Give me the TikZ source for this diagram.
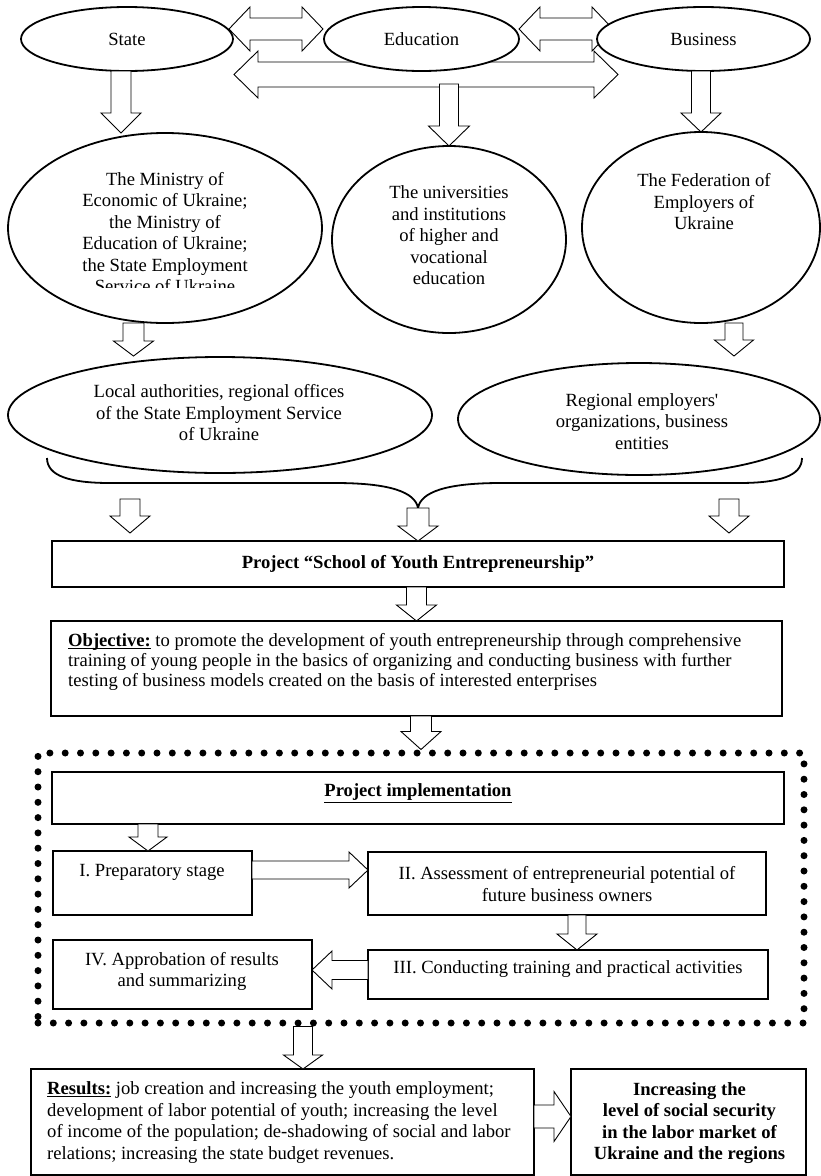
\documentclass[tikz,border=0pt]{standalone}
\usepackage{fontspec}
\setmainfont{Liberation Serif}[Ligatures=TeXOff]
\usetikzlibrary{shapes.geometric,calc}

\newcommand{\downblock}[5]{%
  \draw[barrow] let \p1=(#1), \p2=(#2) in
    (\x2-#3pt,\y1) -- (\x2-#3pt,\y2+#5pt) -- (\x2-#4pt,\y2+#5pt) -- (\x2,\y2)
    -- (\x2+#4pt,\y2+#5pt) -- (\x2+#3pt,\y2+#5pt) -- (\x2+#3pt,\y1) -- cycle;}
\newcommand{\rightblock}[5]{%
  \draw[barrow] let \p1=(#1), \p2=(#2) in
    (\x1,\y2+#3pt) -- (\x2-#5pt,\y2+#3pt) -- (\x2-#5pt,\y2+#4pt) -- (\x2,\y2)
    -- (\x2-#5pt,\y2-#4pt) -- (\x2-#5pt,\y2-#3pt) -- (\x1,\y2-#3pt) -- cycle;}
\newcommand{\leftblock}[5]{%
  \draw[barrow] let \p1=(#1), \p2=(#2) in
    (\x1,\y2+#3pt) -- (\x2+#5pt,\y2+#3pt) -- (\x2+#5pt,\y2+#4pt) -- (\x2,\y2)
    -- (\x2+#5pt,\y2-#4pt) -- (\x2+#5pt,\y2-#3pt) -- (\x1,\y2-#3pt) -- cycle;}
\newcommand{\dblblock}[5]{%
  \draw[barrow] let \p1=(#1), \p2=(#2) in
    (\x1,\y1) -- (\x1+#5pt,\y1+#4pt) -- (\x1+#5pt,\y1+#3pt) -- (\x2-#5pt,\y1+#3pt)
    -- (\x2-#5pt,\y1+#4pt) -- (\x2,\y1) -- (\x2-#5pt,\y1-#4pt) -- (\x2-#5pt,\y1-#3pt)
    -- (\x1+#5pt,\y1-#3pt) -- (\x1+#5pt,\y1-#4pt) -- cycle;}
\newcommand{\ulbold}[1]{\underline{\smash{\textbf{#1}}}}

\tikzset{
  oval/.style={ellipse, draw, fill=white, line width=1.8pt, inner sep=0pt, outer sep=0pt},
  rbox/.style={rectangle, draw, fill=white, line width=2pt, inner sep=0pt, outer sep=0pt},
  txt/.style={inner sep=0pt, align=center, font=\fontsize{18.6}{21.5}\selectfont},
  btxt/.style={inner sep=0pt, align=center, font=\fontsize{18.6}{21.5}\selectfont\bfseries},
  ltxt/.style={inner sep=0pt, align=left, font=\fontsize{18.6}{21.5}\selectfont},
  barrow/.style={draw, fill=white, line width=0.9pt, line join=miter},
  dotframe/.style={rectangle, draw, line width=7pt, dash pattern=on 0pt off 15.3pt, line cap=round, inner sep=0pt},
  bracepath/.style={draw, line width=1.8pt},
}

\begin{document}
\begin{tikzpicture}[x=1pt,y=-1pt]
\useasboundingbox (0,0) rectangle (821,1176);

% ---- top row: double arrows under the ovals
\coordinate (d1l) at (229,29);   \coordinate (d1r) at (323,29);
\coordinate (d2l) at (519,29);   \coordinate (d2r) at (613,29);
\coordinate (d3l) at (234,74.5); \coordinate (d3r) at (618,74.5);
\dblblock{d1l}{d1r}{11}{22}{21}
\dblblock{d2l}{d2r}{11}{22}{21}
\dblblock{d3l}{d3r}{12.5}{23.5}{24}

\node[oval, txt, minimum width=212, minimum height=64] (state) at (127,39) {State};
\node[oval, txt, minimum width=195, minimum height=64] (edu) at (421.5,39) {Education};
\node[oval, txt, minimum width=213, minimum height=64] (bus) at (703.5,39) {Business};

% ---- second row
\node[oval, minimum width=314, minimum height=190] (ministry) at (165,228) {};
\node[oval, minimum width=234, minimum height=187] (univ) at (449,239.5) {};
\node[oval, minimum width=238, minimum height=191] (fed) at (701,227.5) {};

\begin{scope}
  \clip (0,0) rectangle (821,287);
  \node[txt] (ministrytext) at (165,232.5) {The Ministry of\\Economic of Ukraine;\\the Ministry of\\Education of Ukraine;\\the State Employment\\Service of Ukraine};
\end{scope}
\node[txt] (univtext) at (449,235.6) {The universities\\and institutions\\of higher and\\vocational\\education};
\node[txt] (fedtext) at (704,201.7) {The Federation of\\Employers of\\Ukraine};

\coordinate (t1) at (121,133);
\coordinate (c2) at (450,84);
\downblock{state.south}{t1}{10}{20}{20}
\downblock{c2}{univ.north}{9.5}{20.5}{20}
\downblock{bus.south}{fed.north}{9.5}{20}{19}

% ---- third row
\node[oval, minimum width=424, minimum height=116] (local) at (220,415) {};
\node[oval, minimum width=362, minimum height=112] (regional) at (639,419) {};
\node[txt] (localtext) at (219,413) {Local authorities, regional offices\\of the State Employment Service\\of Ukraine};
\node[txt] (regionaltext) at (642,421.5) {Regional employers'\\organizations, business\\entities};

\coordinate (t4) at (133.5,356);
\coordinate (t5) at (734,356);
\downblock{ministry.south}{t4}{10.5}{20}{15}
\downblock{fed.south}{t5}{9}{19.5}{16}

% ---- brace
\draw[bracepath] (47,458) .. controls (47,476) and (70,483) .. (110,483) -- (335,483) .. controls (390,483) and (415,492) .. (418,508);
\draw[bracepath] (802,458) .. controls (802,476) and (779,483) .. (739,483) -- (501,483) .. controls (446,483) and (421,492) .. (418,508);

% ---- project and objective
\node[rbox, minimum width=732, minimum height=46] (project) at (418,564) {};
\node[btxt] (projecttext) at (418,564) {Project “School of Youth Entrepreneurship”};
\node[rbox, minimum width=731, minimum height=95] (objective) at (416.5,668.5) {};
\node[ltxt, font=\fontsize{18.6}{20}\selectfont, anchor=west] (objtext) at (68,662) {\ulbold{Objective:} to promote the development of youth entrepreneurship through comprehensive\\training of young people in the basics of organizing and conducting business with further\\testing of business models created on the basis of interested enterprises};

\coordinate (b1) at (130,499); \coordinate (t6) at (130,533);
\coordinate (b3) at (729,499); \coordinate (t7) at (729,533);
\coordinate (b2) at (419,508);
\downblock{b1}{t6}{10}{20}{17}
\downblock{b3}{t7}{10}{20}{17}
\downblock{b2}{project.north}{11}{20}{15}
\downblock{project.south}{objective.north}{10}{20}{16}

% ---- project implementation frame
\node[dotframe, minimum width=766, minimum height=270] (frame) at (421,888) {};
\node[rbox, minimum width=732, minimum height=52] (impl) at (418,798) {};
\node[btxt] (impltext) at (418,793) {\underline{Project implementation}};

\node[rbox, minimum width=199, minimum height=64] (boxI) at (152.5,883) {};
\node[txt] (boxItext) at (152,872) {I. Preparatory stage};
\node[rbox, minimum width=398, minimum height=63] (boxII) at (567,883.5) {};
\node[txt] (boxIItext) at (567,884) {II. Assessment of entrepreneurial potential of\\future business owners};
\node[rbox, minimum width=400, minimum height=49] (boxIII) at (568,974.5) {};
\node[txt] (boxIIItext) at (568,969) {III. Conducting training and practical activities};
\node[rbox, minimum width=259, minimum height=69] (boxIV) at (182.5,974.5) {};
\node[txt] (boxIVtext) at (182,971.5) {IV. Approbation of results\\and summarizing};

\downblock{objective.south}{frame.north}{10.5}{20}{18}
\coordinate (t10) at (148,851);
\coordinate (t11) at (577,950);
\coordinate (t13) at (368,870);
\coordinate (t14) at (312,970);
\downblock{impl.south}{t10}{10}{19}{14}
\rightblock{boxI.east}{t13}{9}{18}{19}
\downblock{boxII.south}{t11}{9}{20}{16}
\leftblock{boxIII.west}{t14}{9.5}{19}{20}

% ---- results
\node[rbox, minimum width=503, minimum height=106] (results) at (282.5,1122) {};
\node[ltxt, anchor=west] (resultstext) at (47,1122.5) {\ulbold{Results:} job creation and increasing the youth employment;\\development of labor potential of youth; increasing the level\\of income of the population; de-shadowing of social and labor\\relations; increasing the state budget revenues.};
\node[rbox, minimum width=235, minimum height=106] (final) at (688.5,1122) {};
\node[btxt] (finaltext) at (689.5,1123) {Increasing the\\level of social security\\in the labor market of\\Ukraine and the regions};

\coordinate (t12) at (303,1069);
\coordinate (t15) at (571,1116.5);
\downblock{frame.south}{t12}{9.5}{19.5}{14}
\rightblock{results.east}{t15}{11.5}{25}{17}
\end{tikzpicture}
\end{document}
